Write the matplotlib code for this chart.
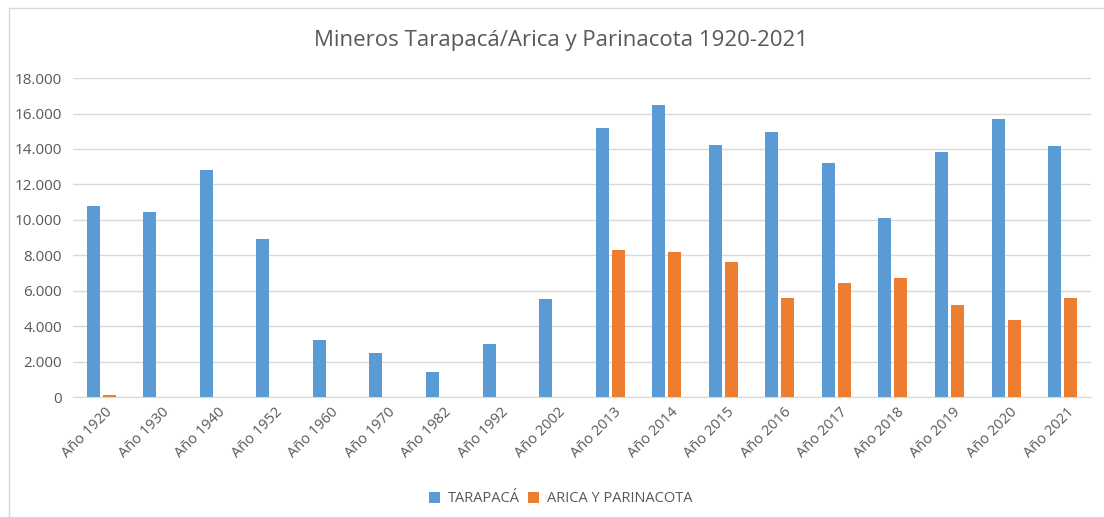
import numpy as np
import matplotlib
matplotlib.use("Agg")
import matplotlib.pyplot as plt
import matplotlib.transforms as mtransforms
from matplotlib.patches import Rectangle
from matplotlib.ticker import FuncFormatter, MultipleLocator

# datos
anios = ["Año 1920", "Año 1930", "Año 1940", "Año 1952", "Año 1960", "Año 1970",
         "Año 1982", "Año 1992", "Año 2002", "Año 2013", "Año 2014", "Año 2015",
         "Año 2016", "Año 2017", "Año 2018", "Año 2019", "Año 2020", "Año 2021"]
tarapaca = [10760, 10430, 12840, 8910, 3230, 2490, 1430, 3000, 5530,
            15210, 16500, 14250, 14980, 13180, 10090, 13800, 15710, 14190]
arica = [130, 0, 0, 0, 0, 0, 0, 0, 0,
         8290, 8180, 7610, 5590, 6430, 6710, 5190, 4350, 5590]

azul = "#5b9bd5"
naranja = "#ed7d31"
gris_txt = "#595959"

plt.rcParams['font.family'] = ['Open Sans', 'DejaVu Sans']

fig = plt.figure(figsize=(11.04, 5.17), dpi=100)
ax = fig.add_axes([0.0661, 0.232, 0.922, 0.617])

# borde del area del grafico
fig.patches.append(Rectangle((9/1104, -0.1), 1.2, 1 - 8/517 + 0.1, transform=fig.transFigure,
                             fill=False, edgecolor="#d9d9d9", linewidth=1))

x = np.arange(len(anios))
ancho = 0.23
ax.bar(x - 0.142, tarapaca, ancho, color=azul, label="TARAPACÁ", zorder=3)
ax.bar(x + 0.142, arica, ancho, color=naranja, label="ARICA Y PARINACOTA", zorder=3)

ax.set_xlim(-0.5, len(anios) - 0.5)
ax.set_ylim(0, 18000)
ax.yaxis.set_major_locator(MultipleLocator(2000))
ax.yaxis.set_major_formatter(FuncFormatter(lambda v, p: f"{int(v):,}".replace(",", ".")))
ax.grid(axis="y", color="#d9d9d9", linewidth=1, zorder=0)

for s in ["top", "right", "left"]:
    ax.spines[s].set_visible(False)
ax.spines["bottom"].set_color("#d9d9d9")
ax.tick_params(axis="both", length=0, colors=gris_txt)
ax.tick_params(axis="y", pad=8, labelsize=11)

ax.set_xticks(x)
ax.set_xticklabels(anios, rotation=45, ha="right", va="center", rotation_mode="anchor",
                   fontsize=10.5)
# mover un poco las etiquetas para que terminen como en excel
desplaza = mtransforms.ScaledTranslation(9/100, -8/100, fig.dpi_scale_trans)
for lab in ax.get_xticklabels():
    lab.set_transform(lab.get_transform() + desplaza)

fig.text(0.508, 0.921, "Mineros Tarapacá/Arica y Parinacota 1920-2021", ha="center", va="center",
         fontsize=16, color=gris_txt)

ax.legend(loc="center", bbox_to_anchor=(0.508, 0.035), bbox_transform=fig.transFigure,
          ncol=2, frameon=False, fontsize=10.5, labelcolor=gris_txt,
          handlelength=0.75, handleheight=0.75, handletextpad=0.5, columnspacing=0.6)

plt.savefig("out.png", dpi=100)
